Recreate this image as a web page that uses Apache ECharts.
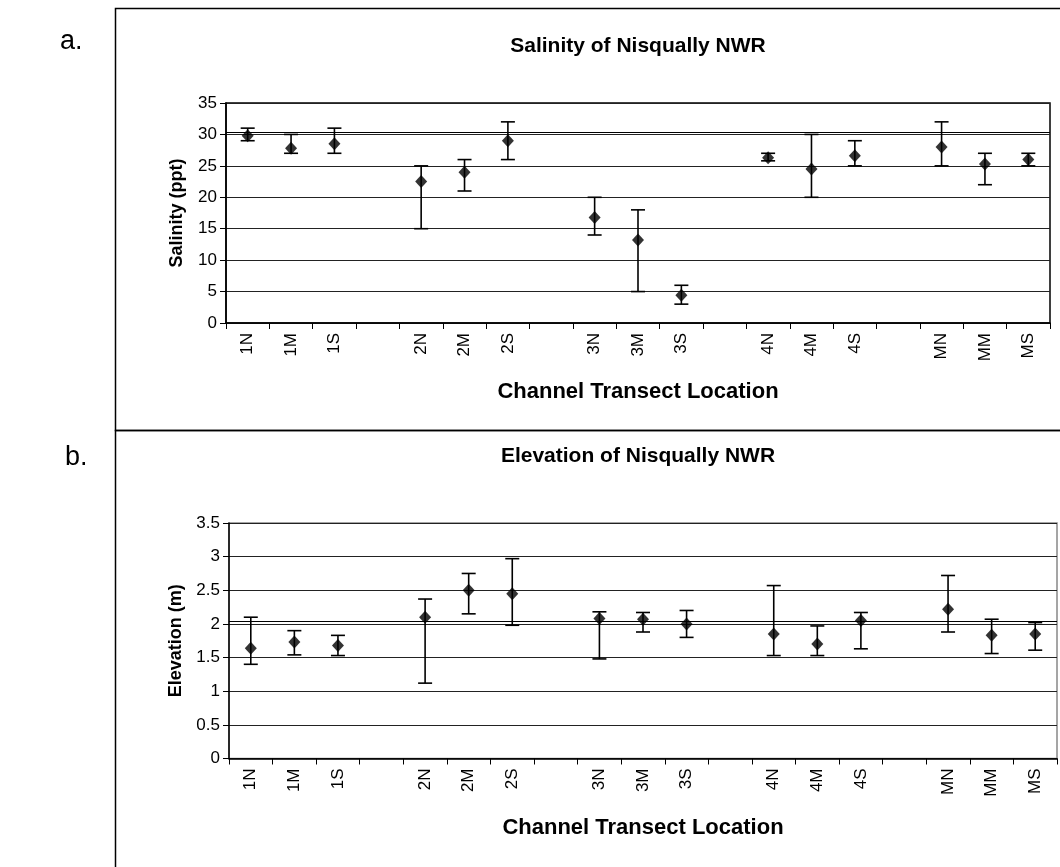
<!DOCTYPE html>
<html>
<head>
<meta charset="utf-8">
<script src="https://cdn.jsdelivr.net/npm/echarts@6/dist/echarts.min.js"></script>
<style>
  html, body { margin: 0; padding: 0; background: #fff; }
  #chart { width: 1060px; height: 867px; }
</style>
</head>
<body>
<div id="chart"></div>
<script>
// Transect locations (blank slots separate the channel groups)
const categories = ['1N', '1M', '1S', '', '2N', '2M', '2S', '', '3N', '3M', '3S', '', '4N', '4M', '4S', '', 'MN', 'MM', 'MS'];

// Salinity (ppt): mean with low / high error bar ends
const salinityMean = [29.8, 27.8, 28.5, null, 22.5, 24.0, 29.0, null, 16.8, 13.2, 4.4, null, 26.3, 24.5, 26.6, null, 28.0, 25.3, 26.0];
const salinityLow  = [29, 27, 27, null, 15, 21, 26, null, 14, 5, 3, null, 25.8, 20, 25, null, 25, 22, 25];
const salinityHigh = [31, 30, 31, null, 25, 26, 32, null, 20, 18, 6, null, 27, 30, 29, null, 32, 27, 27];
const salinityRef = 30.4;

// Elevation (m): mean with low / high error bar ends
const elevationMean = [1.64, 1.73, 1.68, null, 2.10, 2.50, 2.45, null, 2.08, 2.07, 2.00, null, 1.85, 1.70, 2.05, null, 2.22, 1.83, 1.85];
const elevationLow  = [1.40, 1.54, 1.53, null, 1.12, 2.15, 1.98, null, 1.48, 1.88, 1.80, null, 1.53, 1.53, 1.63, null, 1.88, 1.56, 1.61];
const elevationHigh = [2.10, 1.90, 1.83, null, 2.37, 2.75, 2.97, null, 2.18, 2.17, 2.20, null, 2.57, 1.97, 2.17, null, 2.72, 2.07, 2.02];
const elevationRef = 2.04;

const salinityTicks = { min: 0, max: 35, interval: 5 };
const elevationTicks = { min: 0, max: 3.5, interval: 0.5 };

const FONT = '"Liberation Sans", Arial, sans-serif';

function points(mean) {
  const out = [];
  mean.forEach((v, i) => { if (v != null) out.push([i, v]); });
  return out;
}
function bars(low, high) {
  const out = [];
  low.forEach((v, i) => { if (v != null) out.push([i, v, high[i]]); });
  return out;
}

// Vertical whisker with a cap at each end
function errorBar(params, api) {
  const xi = api.value(0);
  const lo = api.coord([xi, api.value(1)]);
  const hi = api.coord([xi, api.value(2)]);
  const half = 7;
  const style = { stroke: '#000', lineWidth: 1.6 };
  return {
    type: 'group',
    children: [
      { type: 'line', shape: { x1: hi[0], y1: hi[1], x2: lo[0], y2: lo[1] }, style },
      { type: 'line', shape: { x1: hi[0] - half, y1: hi[1], x2: hi[0] + half, y2: hi[1] }, style },
      { type: 'line', shape: { x1: lo[0] - half, y1: lo[1], x2: lo[0] + half, y2: lo[1] }, style }
    ]
  };
}

function xAxis(gridIndex) {
  return {
    type: 'category',
    gridIndex,
    data: categories,
    boundaryGap: true,
    axisLine: { lineStyle: { color: '#000', width: 1.5 } },
    axisTick: { show: true, length: 6, lineStyle: { color: '#000', width: 1 } },
    axisLabel: { rotate: 90, interval: 0, color: '#000', fontSize: 17, fontFamily: FONT, margin: 10 },
    name: 'Channel Transect Location',
    nameLocation: 'middle',
    nameGap: 58,
    nameTextStyle: { color: '#000', fontSize: 22, fontWeight: 'bold', fontFamily: FONT }
  };
}

function yAxis(gridIndex, ticks, name) {
  return {
    type: 'value',
    gridIndex,
    min: ticks.min,
    max: ticks.max,
    interval: ticks.interval,
    axisLine: { show: true, lineStyle: { color: '#000', width: 1.5 } },
    axisTick: { show: true, length: 6, lineStyle: { color: '#000', width: 1 } },
    axisLabel: { color: '#000', fontSize: 17, fontFamily: FONT, margin: 9 },
    splitLine: { show: true, lineStyle: { color: '#222', width: 1 } },
    name,
    nameLocation: 'middle',
    nameRotate: 90,
    nameGap: 40,
    nameTextStyle: { color: '#000', fontSize: 18, fontWeight: 'bold', fontFamily: FONT }
  };
}

function refLine(value) {
  return {
    symbol: 'none',
    silent: true,
    label: { show: false },
    lineStyle: { color: '#000', width: 1, type: 'solid' },
    data: [{ yAxis: value }]
  };
}

const chart = echarts.init(document.getElementById('chart'), null, { renderer: 'canvas' });

chart.setOption({
  animation: false,
  backgroundColor: '#fff',
  grid: [
    { left: 226, top: 103, width: 824, height: 220, show: true, borderColor: '#000', borderWidth: 1.5, backgroundColor: 'transparent' },
    { left: 229, top: 523, width: 828, height: 235.5, show: true, borderColor: '#888', borderWidth: 1.5, backgroundColor: 'transparent' }
  ],
  xAxis: [xAxis(0), xAxis(1)],
  yAxis: [
    yAxis(0, salinityTicks, 'Salinity (ppt)'),
    yAxis(1, elevationTicks, 'Elevation (m)')
  ],
  graphic: [
    { type: 'rect', shape: { x: 115.5, y: 8.5, width: 1000, height: 422 }, style: { fill: 'none', stroke: '#000', lineWidth: 1.5 }, z: -1 },
    { type: 'rect', shape: { x: 115.5, y: 430.5, width: 1000, height: 500 }, style: { fill: 'none', stroke: '#000', lineWidth: 1.5 }, z: -1 },
    { type: 'text', left: 60, top: 28, style: { text: 'a.', fill: '#000', font: '27px ' + FONT } },
    { type: 'text', left: 65, top: 444, style: { text: 'b.', fill: '#000', font: '27px ' + FONT } },
    { type: 'text', x: 638, y: 46, style: { text: 'Salinity of Nisqually NWR', fill: '#000', font: 'bold 21px ' + FONT, textAlign: 'center', textVerticalAlign: 'middle' } },
    { type: 'text', x: 638, y: 456, style: { text: 'Elevation of Nisqually NWR', fill: '#000', font: 'bold 21px ' + FONT, textAlign: 'center', textVerticalAlign: 'middle' } }
  ],
  series: [
    {
      type: 'custom', xAxisIndex: 0, yAxisIndex: 0,
      renderItem: errorBar, encode: { x: 0, y: [1, 2] },
      data: bars(salinityLow, salinityHigh), z: 3
    },
    {
      type: 'scatter', xAxisIndex: 0, yAxisIndex: 0,
      symbol: 'diamond', symbolSize: [12, 13],
      itemStyle: { color: '#000' },
      data: points(salinityMean), z: 4,
      markLine: refLine(salinityRef)
    },
    {
      type: 'custom', xAxisIndex: 1, yAxisIndex: 1,
      renderItem: errorBar, encode: { x: 0, y: [1, 2] },
      data: bars(elevationLow, elevationHigh), z: 3
    },
    {
      type: 'scatter', xAxisIndex: 1, yAxisIndex: 1,
      symbol: 'diamond', symbolSize: [12, 13],
      itemStyle: { color: '#000' },
      data: points(elevationMean), z: 4,
      markLine: refLine(elevationRef)
    }
  ]
});
</script>
</body>
</html>
